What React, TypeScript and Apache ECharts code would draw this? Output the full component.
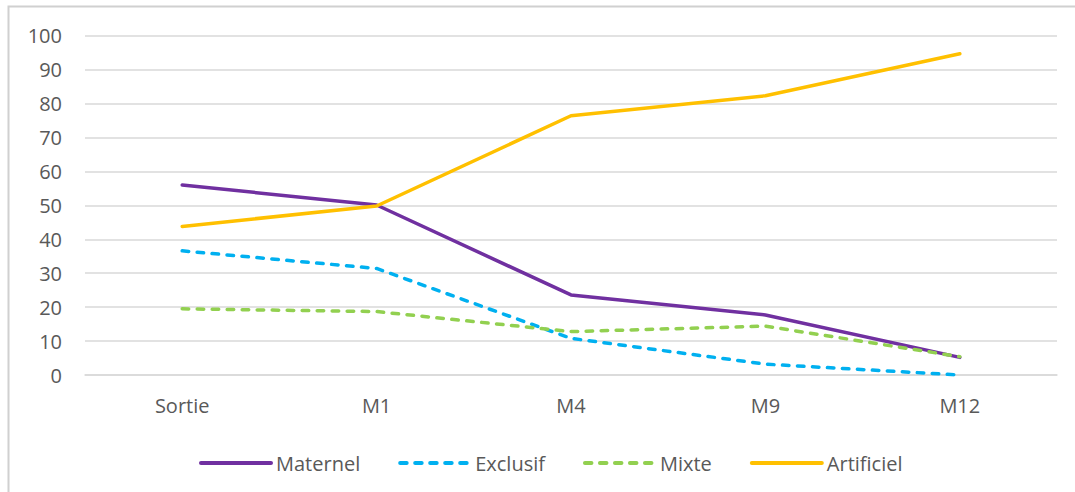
import React, { useEffect, useRef } from "react";
import * as echarts from "echarts";

const categories = ["Sortie", "M1", "M4", "M9", "M12"];
const maternel = [56.0, 50.1, 23.6, 17.7, 5.2];
const exclusif = [36.6, 31.4, 10.8, 3.2, 0];
const mixte = [19.5, 18.7, 12.8, 14.4, 5.4];
const artificiel = [43.8, 49.8, 76.4, 82.3, 94.7];
const seriesNames = ["Maternel", "Exclusif", "Mixte", "Artificiel"];

const FONT = "'Open Sans', Lato, sans-serif";
const LABEL = "#595959";
const GRID = "#d9d9d9";

export default function App() {
  const ref = useRef<HTMLDivElement>(null);
  useEffect(() => {
    if (!ref.current) return;
    const chart = echarts.init(ref.current, undefined, { renderer: "svg" });
    const mk = (name: string, data: number[], color: string, dashed: boolean) => ({
      name,
      type: "line",
      data,
      symbol: "none",
      showSymbol: false,
      lineStyle: {
        color,
        width: 3.5,
        type: dashed ? [6.5, 8.5] : "solid",
        cap: "round",
        join: "round",
      },
      itemStyle: { color },
      emphasis: { disabled: true },
    });
    chart.setOption({
      animation: false,
      textStyle: { fontFamily: FONT },
      graphic: [
        {
          type: "rect",
          shape: { x: 8.5, y: 6.5, width: 1100, height: 520 },
          style: { fill: "none", stroke: "#d0d0d0", lineWidth: 2 },
          silent: true,
        },
      ],
      grid: { left: 85, right: 18, top: 35.7, bottom: 117 },
      xAxis: {
        type: "category",
        data: categories,
        boundaryGap: true,
        axisLine: { show: true, lineStyle: { color: GRID, width: 1.5 } },
        axisTick: { show: false },
        axisLabel: { color: LABEL, fontSize: 20, fontFamily: FONT, margin: 20 },
      },
      yAxis: {
        type: "value",
        min: 0,
        max: 100,
        interval: 10,
        axisLine: { show: false },
        axisTick: { show: false },
        splitLine: { lineStyle: { color: GRID, width: 1.5 } },
        axisLabel: { color: LABEL, fontSize: 20, fontFamily: FONT, margin: 23 },
      },
      legend: {
        data: seriesNames,
        left: 194,
        top: 448,
        itemWidth: 70,
        itemHeight: 14,
        itemGap: 38,
        itemStyle: { opacity: 0, borderWidth: 0 },
        lineStyle: { width: 4, cap: "round" },
        textStyle: { color: LABEL, fontSize: 20, fontFamily: FONT },
      },
      series: [
        mk("Maternel", maternel, "#7030A0", false),
        mk("Exclusif", exclusif, "#00B0F0", true),
        mk("Mixte", mixte, "#92D050", true),
        mk("Artificiel", artificiel, "#FFC000", false),
      ],
    });
    return () => chart.dispose();
  }, []);
  return (
    <div
      ref={ref}
      style={{ position: "fixed", left: 0, top: 0, width: 1075, height: 492, background: "#fff" }}
    />
  );
}
